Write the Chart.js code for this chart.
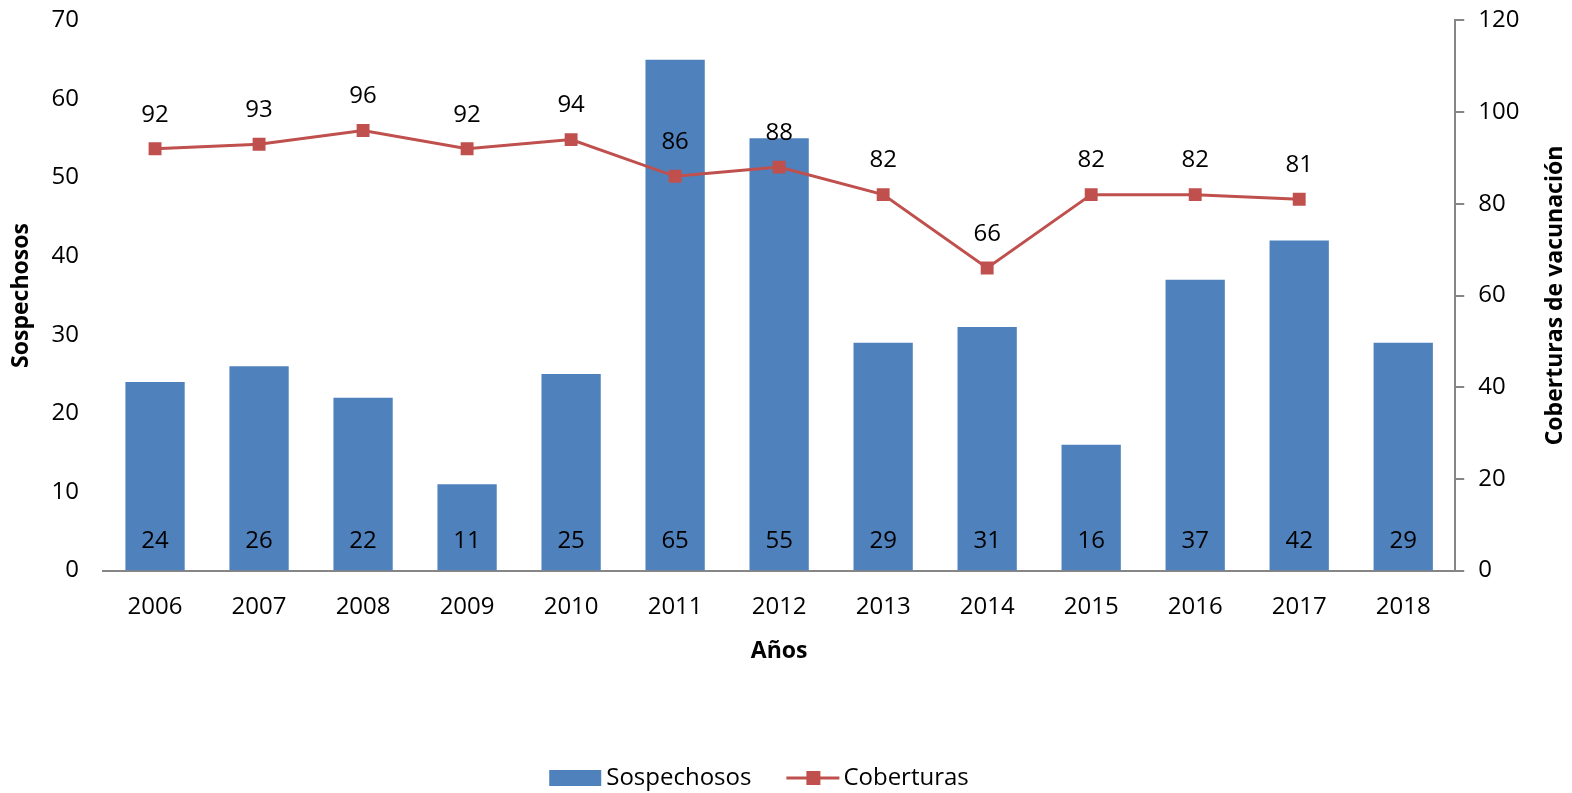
<!DOCTYPE html>
<html>
<head>
<meta charset="utf-8">
<script src="https://cdn.jsdelivr.net/npm/chart.js@4.4.0/dist/chart.umd.min.js"></script>
<style>
  html, body { margin: 0; padding: 0; background: #fff; overflow: hidden; }
  #wrap { position: relative; top: -10px; width: 1572px; height: 803px; }
</style>
</head>
<body>
<div id="wrap"><canvas id="chart"></canvas></div>
<script>
// Chart data
const years = ['2006', '2007', '2008', '2009', '2010', '2011', '2012', '2013', '2014', '2015', '2016', '2017', '2018'];
const sospechosos = [24, 26, 22, 11, 25, 65, 55, 29, 31, 16, 37, 42, 29];
const coberturas = [92, 93, 96, 92, 94, 86, 88, 82, 66, 82, 82, 81, null];

const BLUE = '#4F81BD';
const RED = '#C0504D';
const FONT = "'Open Sans', 'Liberation Sans', sans-serif";
const RIGHT_TITLE = 'Coberturas de vacunación';

// Value labels, right axis title (bottom-to-top) and the legend
const extras = {
  id: 'extras',
  afterDatasetsDraw(chart) {
    const ctx = chart.ctx;
    ctx.save();
    ctx.font = '24px ' + FONT;
    ctx.fillStyle = '#000';
    ctx.textAlign = 'center';
    ctx.textBaseline = 'middle';
    const base = chart.scales.y.getPixelForValue(0);
    chart.getDatasetMeta(1).data.forEach(function(bar, i) {
      ctx.fillText(String(sospechosos[i]), bar.x, base - 29);
    });
    chart.getDatasetMeta(0).data.forEach(function(pt, i) {
      if (coberturas[i] == null) return;
      ctx.fillText(String(coberturas[i]), pt.x, pt.y - 34);
    });
    ctx.restore();

    // right title
    ctx.save();
    const y1 = chart.scales.y1;
    ctx.font = 'bold 23px ' + FONT;
    ctx.fillStyle = '#000';
    ctx.textAlign = 'center';
    ctx.textBaseline = 'middle';
    ctx.translate(y1.right - 17, (chart.chartArea.top + chart.chartArea.bottom) / 2);
    ctx.rotate(-Math.PI / 2);
    ctx.fillText(RIGHT_TITLE, 0, 0);
    ctx.restore();

    // legend
    ctx.save();
    ctx.font = '24px ' + FONT;
    ctx.textBaseline = 'middle';
    ctx.textAlign = 'left';
    const t1 = 'Sospechosos', t2 = 'Coberturas';
    const w1 = ctx.measureText(t1).width, w2 = ctx.measureText(t2).width;
    const total = 52 + 5 + w1 + 35 + 53 + 4 + w2;
    let x = 759 - total / 2;
    const ly = chart.height - 15;
    ctx.fillStyle = BLUE;
    ctx.fillRect(x, ly - 8, 52, 16);
    x += 57;
    ctx.fillStyle = '#000';
    ctx.fillText(t1, x, ly);
    x += w1 + 35;
    ctx.strokeStyle = RED;
    ctx.lineWidth = 3;
    ctx.beginPath(); ctx.moveTo(x, ly); ctx.lineTo(x + 53, ly); ctx.stroke();
    ctx.fillStyle = RED;
    ctx.fillRect(x + 20, ly - 7, 14, 14);
    x += 57;
    ctx.fillStyle = '#000';
    ctx.fillText(t2, x, ly);
    ctx.restore();
  }
};

const ctx = document.getElementById('chart').getContext('2d');
const myChart = new Chart(ctx, {
  data: {
    labels: years,
    datasets: [
      {
        type: 'line',
        label: 'Coberturas',
        data: coberturas,
        yAxisID: 'y1',
        borderColor: RED,
        backgroundColor: RED,
        borderWidth: 3,
        pointStyle: 'rect',
        pointRadius: 7,
        pointHoverRadius: 7,
        pointBackgroundColor: RED,
        pointBorderColor: RED,
        tension: 0,
        spanGaps: false,
        order: 0
      },
      {
        type: 'bar',
        label: 'Sospechosos',
        data: sospechosos,
        yAxisID: 'y',
        backgroundColor: BLUE,
        borderWidth: 0,
        categoryPercentage: 0.57,
        barPercentage: 1.0,
        order: 1
      }
    ]
  },
  options: {
    responsive: true,
    maintainAspectRatio: false,
    animation: false,
    layout: { padding: { top: -12, right: 0, left: 8, bottom: 0 } },
    scales: {
      x: {
        offset: true,
        grid: { display: false },
        border: { display: true, color: '#868686', width: 2 },
        ticks: { color: '#000', font: { size: 24, family: FONT }, padding: 14 },
        title: {
          display: true,
          text: 'Años',
          color: '#000',
          font: { size: 23, weight: 'bold', family: FONT },
          padding: { top: 2, bottom: 128 }
        }
      },
      y: {
        position: 'left',
        min: 0,
        max: 70,
        ticks: { stepSize: 10, color: '#000', font: { size: 24, family: FONT }, padding: 16 },
        grid: { display: false },
        border: { display: false },
        title: {
          display: true,
          text: 'Sospechosos',
          color: '#000',
          font: { size: 23, weight: 'bold', family: FONT },
          padding: { top: 0, bottom: 0 }
        }
      },
      y1: {
        position: 'right',
        min: 0,
        max: 120,
        ticks: { stepSize: 20, color: '#000', font: { size: 24, family: FONT }, padding: 14 },
        grid: { display: true, drawOnChartArea: false, drawTicks: true, tickLength: 9, color: '#868686', lineWidth: 2 },
        border: { display: true, color: '#868686', width: 2 },
        title: {
          display: true,
          text: RIGHT_TITLE,
          color: 'rgba(0,0,0,0)',
          font: { size: 23, weight: 'bold', family: FONT },
          padding: { top: 7 }
        }
      }
    },
    plugins: {
      tooltip: { enabled: false },
      legend: { display: false }
    }
  },
  plugins: [extras]
});
</script>
</body>
</html>
